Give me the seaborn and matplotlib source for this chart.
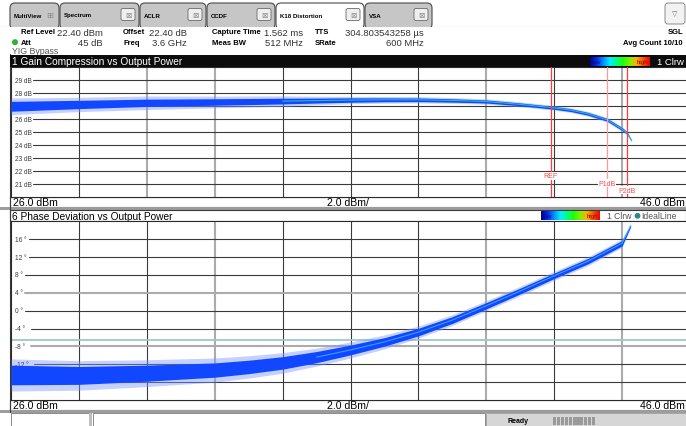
import numpy as np
import matplotlib
matplotlib.use("Agg")
import matplotlib.pyplot as plt
from matplotlib.patches import Rectangle, FancyBboxPatch, Circle
from matplotlib.colors import LinearSegmentedColormap
import seaborn as sns

sns.set_style("white")
plt.rcParams["font.family"] = ["Liberation Sans", "DejaVu Sans"]

W, H = 686, 427

# ---- Gain compression trace: output power (dBm) vs gain (dB) ----
gain_pout = [26, 28, 30, 32, 34, 35, 36, 37, 38, 39, 40, 41, 42, 42.5, 43, 43.56, 44, 44.15, 44.28]
gain_db = [27.0, 27.14, 27.27, 27.33, 27.4, 27.44, 27.48, 27.5, 27.5, 27.45, 27.37, 27.15,
           26.88, 26.7, 26.42, 25.96, 25.25, 24.93, 24.35]
gain_core = [0.38, 0.32, 0.28, 0.25, 0.22, 0.19, 0.17, 0.15, 0.14, 0.13, 0.12, 0.11,
             0.11, 0.11, 0.11, 0.11, 0.11, 0.10, 0.04]
gain_halo = [0.64, 0.55, 0.52, 0.45, 0.40, 0.33, 0.28, 0.26, 0.24, 0.22, 0.20, 0.19,
             0.18, 0.18, 0.18, 0.18, 0.18, 0.15, 0.06]

# ---- Phase deviation trace: output power (dBm) vs phase (deg) ----
phase_pout = [26, 28, 30, 32, 33, 34, 35, 36, 37, 38, 39, 40, 41, 42, 43, 43.5, 44, 44.25]
phase_deg = [-14.4, -14.5, -14.0, -13.3, -12.6, -11.7, -10.4, -8.8, -7.0, -4.8, -2.1, 1.1,
             4.4, 7.8, 11.1, 13.1, 15.1, 19.0]
phase_core = [2.2, 2.0, 1.8, 1.6, 1.5, 1.4, 1.25, 1.1, 0.95, 0.85, 0.75, 0.7,
              0.65, 0.6, 0.6, 0.6, 0.6, 0.25]
phase_halo = [3.6, 3.3, 3.0, 2.7, 2.5, 2.3, 2.0, 1.8, 1.55, 1.35, 1.2, 1.1,
              1.05, 1.0, 1.0, 0.95, 0.95, 0.4]

# ---- Markers and reference lines ----
marker_names = ["REF", "P1dB", "P2dB"]
marker_pout = [41.9, 43.56, 44.15]
ideal_phase = -6.6

gain_ticks = [29, 28, 27, 26, 25, 24, 23, 22, 21]
phase_ticks = [16, 12, 8, 4, 0, -4, -8, -12, -16]
x_start, x_stop, x_div = 26.0, 46.0, 2.0

GRID_DARK = "#3a3a3a"
GRID_LIGHT = "#ababab"

fig = plt.figure(figsize=(W / 100, H / 100), dpi=100)
fig.patch.set_facecolor("white")

bg = fig.add_axes([0, 0, 1, 1], zorder=0)
bg.set_xlim(0, W)
bg.set_ylim(H, 0)
bg.axis("off")


def rect(x0, y0, x1, y1, fc, ec="none", lw=0.0, z=1):
    bg.add_patch(Rectangle((x0, y0), x1 - x0, y1 - y0, facecolor=fc,
                           edgecolor=ec, linewidth=lw, zorder=z))


def txt(x, y, s, size=7, color="black", weight="normal", ha="left", z=5, **kw):
    bg.text(x, y, s, fontsize=size, color=color, fontweight=weight, ha=ha,
            va="center", zorder=z, **kw)


def px_axes(x0, y0, x1, y1):
    return fig.add_axes([x0 / W, 1 - y1 / H, (x1 - x0) / W, (y1 - y0) / H], zorder=2)


# ---------------- tab bar ----------------
rect(0, 0, W, 28, "white")
bg.plot([0, W], [27.5, 27.5], color="#7a7a7a", lw=0.8, zorder=2)
tabs = [("MultiView", 10, 60), ("Spectrum", 60, 140), ("ACLR", 140, 207),
        ("CCDF", 207, 276), ("K18 Distortion", 276, 365), ("VSA", 365, 433)]
for name, x0, x1 in tabs:
    active = name == "K18 Distortion"
    fc = "white" if active else "#c6c6c6"
    bg.add_patch(FancyBboxPatch((x0, 4), x1 - x0 - 1, 26, boxstyle="round,pad=0,rounding_size=5",
                                facecolor=fc, edgecolor="#4a4a4a", linewidth=0.8,
                                zorder=4 if active else 3))
    txt(x0 + 4, 16, name, size=4.4, weight="bold", z=6)
    if name == "MultiView":
        txt(x1 - 10, 15.5, "\u229e", size=6, color="#8a8a8a", ha="center", z=6,
            family="DejaVu Sans")
    else:
        bx = x1 - 19
        bg.add_patch(FancyBboxPatch((bx, 9.5), 14, 12, boxstyle="round,pad=0,rounding_size=2",
                                    facecolor="#efefef", edgecolor="#6a6a6a", linewidth=0.6,
                                    zorder=6))
        txt(bx + 7, 15.6, "\u22a0", size=5.5, color="#8a8a8a", ha="center", z=7,
            family="DejaVu Sans")
rect(0, 28, W, 55, "white", z=5)
bg.add_patch(FancyBboxPatch((665, 4), 20, 21, boxstyle="round,pad=0,rounding_size=3",
                            facecolor="#f2f2f2", edgecolor="#8a8a8a", linewidth=0.7, zorder=3))
txt(675, 14.5, "\u25bd", size=5, color="#707070", ha="center", family="DejaVu Sans")

# ---------------- measurement header ----------------
LS = 5.5   # bold field names
VS = 6.8   # field values
txt(21, 33, "Ref Level", size=LS, weight="bold", z=6)
txt(103, 33, "22.40 dBm", size=VS, color="#333333", ha="right", z=6)
txt(123, 33, "Offset", size=LS, weight="bold", z=6)
txt(187, 33, "22.40 dB", size=VS, color="#333333", ha="right", z=6)
txt(212, 33, "Capture Time", size=LS, weight="bold", z=6)
txt(303, 33, "1.562 ms", size=VS, color="#333333", ha="right", z=6)
txt(315, 33, "TTS", size=LS, weight="bold", z=6)
txt(345, 33, "304.803543258 \u00b5s", size=VS, color="#333333", z=6)
txt(683, 33, "SGL", size=LS, weight="bold", ha="right", z=6)
bg.add_patch(Circle((15, 43.2), 2.3, color="#2fae3c", zorder=6))
txt(21, 43.5, "Att", size=LS, weight="bold", z=6)
txt(103, 43.5, "45 dB", size=VS, color="#333333", ha="right", z=6)
txt(123, 43.5, "Freq", size=LS, weight="bold", z=6)
txt(187, 43.5, "3.6 GHz", size=VS, color="#333333", ha="right", z=6)
txt(212, 43.5, "Meas BW", size=LS, weight="bold", z=6)
txt(303, 43.5, "512 MHz", size=VS, color="#333333", ha="right", z=6)
txt(315, 43.5, "SRate", size=LS, weight="bold", z=6)
txt(424, 43.5, "600 MHz", size=VS, color="#333333", ha="right", z=6)
txt(683, 43.5, "Avg Count 10/10", size=LS, weight="bold", ha="right", z=6)
txt(12, 51.5, "YIG Bypass", size=6.3, color="#555555", z=6)

# ---------------- window frames ----------------
rect(10, 55.5, W, 68.3, "#0c0c0c", z=6)
txt(12, 62.2, "1 Gain Compression vs Output Power", size=7.3, color="white", z=7)

legend_cmap = LinearSegmentedColormap.from_list(
    "density", ["#00008a", "#0028ff", "#0090ff", "#00f0ff", "#00ff80", "#20ff00",
                "#80f000", "#ffb000", "#ff5000", "#f00000"])
grad = np.linspace(0, 1, 256)[None, :]
bg.imshow(grad, extent=(590, 650, 67, 58), cmap=legend_cmap, aspect="auto", zorder=7)
txt(592, 62.8, "low", size=4.5, color="#101040", z=8)
txt(648, 62.8, "high", size=4.5, color="#7a1000", ha="right", z=8)
txt(684, 62.2, "1 Clrw", size=6.8, color="white", ha="right", z=7)

rect(10, 198.3, W, 208, "white", ec="#3a3a3a", lw=0.8, z=3)
rect(0, 208, W, 211, "#9c9c9c", z=3)
rect(10, 211, W, 222.3, "white", ec="#3a3a3a", lw=0.8, z=3)
txt(12, 216.8, "6 Phase Deviation vs Output Power", size=7.3, z=6)
bg.imshow(grad, extent=(541, 600, 221, 212), cmap=legend_cmap, aspect="auto", zorder=7)
txt(543, 216.8, "low", size=4.5, color="#101040", z=8)
txt(598, 216.8, "high", size=4.5, color="#7a1000", ha="right", z=8)
txt(607, 216.8, "1 Clrw", size=6.2, color="#555555", z=6)
bg.add_patch(Circle((637.5, 216.8), 2.2, color="#2a8a8a", zorder=6))
txt(641.5, 216.8, "IdealLine", size=6.2, color="#555555", z=6)

rect(10, 401, W, 411, "white", ec="#3a3a3a", lw=0.8, z=3)
rect(0, 411, W, 413.5, "#9c9c9c", z=3)

for yrow in (203.3, 406.2):
    txt(13, yrow, f"{x_start:.1f} dBm", size=7.6, z=6)
    txt(348, yrow, f"{x_div:.1f} dBm/", size=7.6, ha="center", z=6)
    txt(685, yrow, f"{x_stop:.1f} dBm", size=7.6, ha="right", z=6)

# status bar
rect(0, 413.5, W, H, "white", z=3)
rect(11, 414, 90, H + 2, "white", ec="#8a8a8a", lw=0.7, z=3)
rect(89, 414, 92, H, "#bdbdbd", z=4)
rect(93, 414, 485, H + 2, "white", ec="#8a8a8a", lw=0.7, z=3)
rect(486, 414, W, H, "#d6d6d6", ec="#9a9a9a", lw=0.6, z=3)
txt(508, 421.5, "Ready", size=5, weight="bold", z=6)
for k in range(11):
    rect(553 + k * 3.9, 418, 553 + k * 3.9 + 3.1, 425.5, "#9a9a9a", z=5)

bg.plot([10, 10], [55, 413], color="#3a3a3a", lw=0.8, zorder=3)


# ---------------- data panels ----------------
def style_panel(ax, ylo, yhi, ticks, light_x, light_y, fmt, lab_end):
    ax.set_facecolor("white")
    ax.set_xlim(x_start, x_stop)
    ax.set_ylim(ylo, yhi)
    ax.set_xticks([])
    ax.set_yticks([])
    for sp in ax.spines.values():
        sp.set_color("#2a2a2a")
        sp.set_linewidth(0.8)
    for xv in np.arange(x_start + x_div, x_stop, x_div):
        light = round(xv) in light_x
        ax.axvline(xv, color=GRID_LIGHT if light else GRID_DARK,
                   lw=1.5 if light else 0.8, zorder=1)
    for yv in ticks:
        label = fmt(yv)
        light = yv in light_y
        ax.plot([x_start + lab_end(label) / 33.95, x_stop], [yv, yv],
                color=GRID_LIGHT if light else GRID_DARK, lw=1.5 if light else 0.8,
                zorder=1)
        ax.text(x_start + 4 / 33.95, yv, label, fontsize=4.7, color="#3a3a3a",
                va="center", ha="left", zorder=3.5)


def draw_trace(ax, x, y, core, halo, line_color, line_from):
    x = np.asarray(x)
    y = np.asarray(y)
    core = np.asarray(core)
    halo = np.asarray(halo)
    ax.fill_between(x, y - halo, y + halo, color="#7c98ff", alpha=0.45, lw=0, zorder=3)
    ax.fill_between(x, y - core, y + core, color="#1148ff", lw=0, zorder=4)
    keep = x >= line_from
    sns.lineplot(x=x[keep], y=y[keep], ax=ax, color=line_color, lw=0.8, alpha=0.85, zorder=5)
    ax.set_xlabel("")
    ax.set_ylabel("")


ax1 = px_axes(11, 68.3, 690, 198.3)
style_panel(ax1, 20, 30, gain_ticks, {30, 32, 40, 44}, set(),
            lambda v: f"{v} dB", lambda s: 22)
draw_trace(ax1, gain_pout, gain_db, gain_core, gain_halo, "#2ad0c0", 33)
ax1.set_xlim(x_start, x_stop)
ax1.set_ylim(20, 30)

label_rows = [21.64, 21.1, 20.56]
marker_colors = ["#ff3b3b", "#ff9a9a", "#ff3b3b"]
for name, xv, yl, c in zip(marker_names, marker_pout, label_rows, marker_colors):
    ax1.axvline(xv, color=c, lw=0.9, zorder=6)
    ax1.text(xv, yl, name, fontsize=5, color="#ff4a4a", ha="center", va="center",
             zorder=7, bbox=dict(facecolor="white", edgecolor="none", pad=0.3))

ax2 = px_axes(11, 222.3, 690, 401)
style_panel(ax2, -20, 20, phase_ticks, {32, 40, 44}, {4, -8},
            lambda v: f"{v} \u00b0",
            lambda s: 11 + 3.3 * len(s.replace(" \u00b0", "")) + (2 if s.startswith("-") else 0))
ax2.axhline(ideal_phase, color="#9cc8c8", lw=1.3, zorder=2)
draw_trace(ax2, phase_pout, phase_deg, phase_core, phase_halo, "#3ab0ff", 35)
ax2.set_xlim(x_start, x_stop)
ax2.set_ylim(-20, 20)

fig.savefig("out.png", dpi=100, facecolor="white")
